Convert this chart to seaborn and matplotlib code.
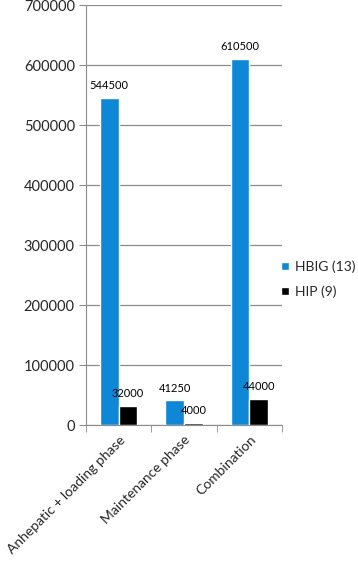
import matplotlib
matplotlib.use("Agg")
import matplotlib.pyplot as plt
import seaborn as sns
import pandas as pd
from matplotlib.ticker import FixedLocator

categories = ["Anhepatic + loading phase", "Maintenance phase", "Combination"]
series_names = ["HBIG (13)", "HIP (9)"]
hbig_values = [544500, 41250, 610500]
hip_values = [32000, 4000, 44000]
y_ticks = [0, 100000, 200000, 300000, 400000, 500000, 600000, 700000]

df = pd.DataFrame({
    "category": categories * 2,
    "series": [series_names[0]] * 3 + [series_names[1]] * 3,
    "value": hbig_values + hip_values,
})

sns.set_style("white")
plt.rcParams["font.family"] = ["Lato", "DejaVu Sans"]

fig = plt.figure(figsize=(3.58, 5.64), dpi=100)
ax = fig.add_axes([0.240, 0.246, 0.548, 0.745])

sns.barplot(data=df, x="category", y="value", hue="series",
            palette=["#0F87D7", "#000000"], width=0.57, ax=ax,
            saturation=1, legend=True)

for cont in ax.containers:
    ax.bar_label(cont, fmt="%d", padding=5, fontsize=8, color="#000000")

ax.set_ylim(0, 700000)
ax.set_xlim(-0.5, 2.5)
ax.set_yticks(y_ticks)
ax.set_yticklabels([str(v) for v in y_ticks], fontsize=10.5)
ax.yaxis.grid(True, color="#8c8c8c", linewidth=0.9)
ax.set_axisbelow(True)
ax.set_xlabel("")
ax.set_ylabel("")

for s in ["top", "right"]:
    ax.spines[s].set_visible(False)
ax.spines["left"].set_color("#8c8c8c")
ax.spines["bottom"].set_color("#8c8c8c")
ax.tick_params(axis="y", length=5, color="#8c8c8c", pad=3, left=True)

ax.set_xticks(range(len(categories)))
ax.set_xticklabels(categories, rotation=45, ha="right", rotation_mode="anchor", fontsize=10)
ax.tick_params(axis="x", which="major", length=0, pad=6)
ax.xaxis.set_minor_locator(FixedLocator([-0.5, 0.5, 1.5, 2.5]))
ax.tick_params(axis="x", which="minor", length=5, color="#8c8c8c", bottom=True)

handles, labels = ax.get_legend_handles_labels()
ax.get_legend().remove()
fig.legend(handles, labels, loc="center left", bbox_to_anchor=(0.785, 0.505),
           frameon=False, fontsize=10, handlelength=0.6, handleheight=0.6,
           handletextpad=0.4, labelspacing=0.9, borderaxespad=0.0, borderpad=0.0)

fig.savefig("out.png", dpi=100)
